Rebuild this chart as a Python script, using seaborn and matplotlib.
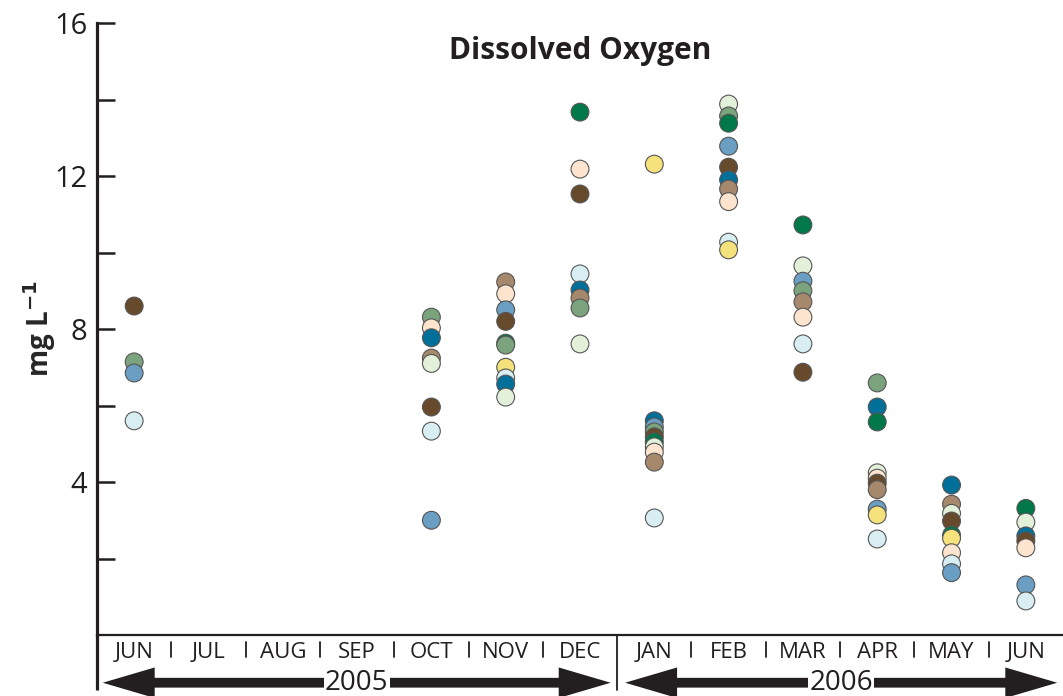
import numpy as np
import pandas as pd
import matplotlib
matplotlib.use('Agg')
import matplotlib.pyplot as plt
import matplotlib.transforms as mtrans
from matplotlib.patches import FancyArrowPatch
import seaborn as sns

months = ['JUN', 'JUL', 'AUG', 'SEP', 'OCT', 'NOV', 'DEC',
          'JAN', 'FEB', 'MAR', 'APR', 'MAY', 'JUN']
years = ['2005', '2006']

N = None
# dissolved oxygen (mg/L) per site, Jun 2005 .. Jun 2006
site_dark_green = [N, N, N, N, N, 7.63, 13.67, 5.05, 13.38, 10.72, 5.57, 2.61, 3.31]
site_sage       = [7.14, N, N, N, 8.31, 7.58, 8.55, 5.31, 13.57, 9.00, 6.59, N, N]
site_steel      = [6.85, N, N, N, 3.00, 8.50, N, 5.44, 12.78, 9.25, 3.29, 1.63, 1.31]
site_teal       = [N, N, N, N, 7.77, 6.56, 9.02, 5.60, 11.90, N, 5.96, 3.92, 2.59]
site_brown      = [8.60, N, N, N, 5.96, 8.20, 11.53, 5.18, 12.23, 6.87, 3.97, 2.98, 2.46]
site_tan        = [N, N, N, N, 7.24, 9.23, 8.81, 4.52, 11.66, 8.71, 3.80, 3.42, N]
site_peach      = [N, N, N, N, 8.03, 8.92, 12.18, 4.78, 11.33, 8.31, 4.10, 2.15, 2.28]
site_pale_green = [N, N, N, N, 7.10, 6.22, 7.61, 4.92, 13.88, 9.65, 4.24, 3.18, 2.95]
site_pale_blue  = [5.60, N, N, N, 5.33, 6.72, 9.44, 3.06, 10.27, 7.61, 2.51, 1.86, 0.89]
site_yellow     = [N, N, N, N, N, 7.00, N, 12.31, 10.07, N, 3.14, 2.53, N]

sites = {
    'dark_green': site_dark_green, 'sage': site_sage, 'steel': site_steel,
    'teal': site_teal, 'brown': site_brown, 'tan': site_tan,
    'peach': site_peach, 'pale_green': site_pale_green,
    'pale_blue': site_pale_blue, 'yellow': site_yellow,
}
palette = {
    'dark_green': '#00784A', 'sage': '#7BA47E', 'steel': '#6A9EC2',
    'teal': '#00709A', 'brown': '#674A2C', 'tan': '#A6896C',
    'peach': '#FDE4CE', 'pale_green': '#E4F1DA',
    'pale_blue': '#D8EEF3', 'yellow': '#F5E27C',
}

rows = []
for name, vals in sites.items():
    for i, v in enumerate(vals):
        if v is not None:
            rows.append((name, i, v))
df = pd.DataFrame(rows, columns=['site', 'month', 'do'])
# lower points drawn last so they sit on top
df = df.sort_values('do', ascending=False).reset_index(drop=True)

sns.set_style('white')
plt.rcParams['font.family'] = ['Open Sans', 'DejaVu Sans']
ink = '#231f20'

fig = plt.figure(figsize=(10.63, 6.96), dpi=100)
ax = fig.add_axes([97 / 1063, 1 - 635 / 696, 1 - 97 / 1063, 612 / 696])

sns.scatterplot(data=df, x='month', y='do', hue='site', palette=palette,
                s=165, edgecolor='#555555', linewidth=0.8, legend=False,
                ax=ax, clip_on=False, zorder=3)

ax.set_xlim(-0.5, 12.5)
ax.set_ylim(0, 16)
ax.set_xlabel('')
ax.set_ylabel('mg L$^{\\mathbf{-1}}$', fontsize=20, fontweight='bold', labelpad=-3)

for s in ['top', 'right']:
    ax.spines[s].set_visible(False)
ax.spines['left'].set_linewidth(2.3)
ax.spines['left'].set_color(ink)
ax.spines['bottom'].set_linewidth(1.6)
ax.spines['bottom'].set_color(ink)

ax.set_yticks([4, 8, 12, 16])
ax.set_yticks([2, 6, 10, 14], minor=True)
ax.tick_params(axis='y', which='both', left=True, direction='in', length=13,
               width=1.8, color=ink, labelsize=21, pad=7, labelcolor=ink)
ax.set_xticks(range(13))
ax.set_xticklabels(months)
ax.tick_params(axis='x', length=0, labelsize=16, pad=5, labelcolor=ink)

trans = mtrans.blended_transform_factory(ax.transData, ax.transAxes)
# left spine continues down through the month/year band
ax.plot([-0.5, -0.5], [0, -0.09], transform=trans, color=ink, lw=2.3,
        clip_on=False, solid_capstyle='butt')
# month separators
for k in range(1, 13):
    if k == 7:
        ax.plot([k - 0.5, k - 0.5], [0, -0.09], transform=trans, color=ink,
                lw=1.3, clip_on=False)
    else:
        ax.plot([k - 0.5, k - 0.5], [-0.012, -0.036], transform=trans,
                color=ink, lw=1.3, clip_on=False)

# year arrows
ya = -0.078
for label, x0, x1 in [(years[0], -0.46, 6.45), (years[1], 6.57, 12.46)]:
    xm = (x0 + x1) / 2
    for xe in (x0, x1):
        arr = FancyArrowPatch((xm, ya), (xe, ya), transform=trans,
                              arrowstyle='simple,head_length=1.7,head_width=1.0,tail_width=0.32',
                              mutation_scale=22, color=ink, lw=0, clip_on=False)
        ax.add_patch(arr)
    ax.text(xm, ya, label, transform=trans, ha='center', va='center',
            fontsize=20, color=ink,
            bbox=dict(facecolor='white', edgecolor='none', pad=1.0), zorder=5)

ax.text(0.5, 0.955, 'Dissolved Oxygen', transform=ax.transAxes, ha='center',
        va='center', fontsize=21.5, fontweight='bold', color=ink)

fig.savefig('out.png', dpi=100)
